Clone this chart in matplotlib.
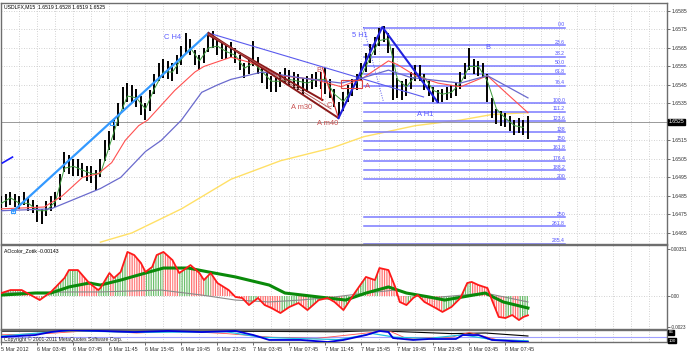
import numpy as np
import matplotlib.pyplot as plt
from matplotlib.patches import Rectangle

plt.rcParams['font.family'] = ['Liberation Sans', 'DejaVu Sans']
plt.rcParams['hatch.linewidth'] = 0.9

title = 'USDLFX,M15  1.6519 1.6528 1.6519 1.6525'
ind_title = 'AOcolor_Zotik -0.00143'
time_labels = ['5 Mar 2012', '6 Mar 03:45', '6 Mar 07:45', '6 Mar 11:45', '6 Mar 15:45',
               '6 Mar 19:45', '6 Mar 23:45', '7 Mar 03:45', '7 Mar 07:45', '7 Mar 11:45',
               '7 Mar 15:45', '7 Mar 19:45', '7 Mar 23:45', '8 Mar 03:45', '8 Mar 07:45']
time_label_bars = [0, 16, 32, 48, 64, 80, 96, 112, 128, 144, 160, 176, 192, 208, 224]

# price bars, one entry for every 2 M15 bars
price_highs = [1.6485, 1.6486, 1.6487, 1.6486, 1.6485, 1.6487, 1.6484, 1.6483, 1.6480, 1.6478,
               1.6482, 1.6485, 1.6487, 1.6497, 1.6509, 1.6507, 1.6505, 1.6505, 1.6503, 1.6501,
               1.6501, 1.6499, 1.6505, 1.6515, 1.6520, 1.6526, 1.6535, 1.6544, 1.6546, 1.6545,
               1.6543, 1.6539, 1.6535, 1.6542, 1.6551, 1.6557, 1.6559, 1.6558, 1.6557, 1.6561,
               1.6566, 1.6573, 1.6570, 1.6564, 1.6561, 1.6565, 1.6573, 1.6574, 1.6570, 1.6568,
               1.6567, 1.6568, 1.6565, 1.6561, 1.6557, 1.6559, 1.6569, 1.6560, 1.6554, 1.6552,
               1.6550, 1.6549, 1.6552, 1.6554, 1.6553, 1.6552, 1.6551, 1.6549, 1.6550, 1.6551,
               1.6552, 1.6552, 1.6554, 1.6548, 1.6543, 1.6536, 1.6541, 1.6545, 1.6548, 1.6551,
               1.6557, 1.6562, 1.6567, 1.6571, 1.6576, 1.6577, 1.6573, 1.6565, 1.6549, 1.6547,
               1.6548, 1.6552, 1.6556, 1.6556, 1.6551, 1.6547, 1.6544, 1.6542, 1.6543, 1.6544,
               1.6545, 1.6546, 1.6552, 1.6557, 1.6565, 1.6559, 1.6558, 1.6557, 1.6551, 1.6538,
               1.6532, 1.6531, 1.6530, 1.6528, 1.6526, 1.6527, 1.6526, 1.6528]
price_lows = [1.6477, 1.6479, 1.6480, 1.6479, 1.6478, 1.6480, 1.6477, 1.6476, 1.6471, 1.6470,
              1.6474, 1.6477, 1.6479, 1.6483, 1.6498, 1.6497, 1.6496, 1.6496, 1.6495, 1.6493,
              1.6492, 1.6488, 1.6495, 1.6504, 1.6510, 1.6515, 1.6523, 1.6532, 1.6536, 1.6535,
              1.6533, 1.6529, 1.6526, 1.6531, 1.6540, 1.6547, 1.6549, 1.6548, 1.6547, 1.6551,
              1.6556, 1.6562, 1.6561, 1.6556, 1.6553, 1.6557, 1.6563, 1.6565, 1.6561, 1.6559,
              1.6559, 1.6560, 1.6557, 1.6553, 1.6549, 1.6551, 1.6555, 1.6551, 1.6546, 1.6543,
              1.6541, 1.6541, 1.6544, 1.6546, 1.6545, 1.6543, 1.6542, 1.6540, 1.6541, 1.6543,
              1.6544, 1.6543, 1.6540, 1.6538, 1.6533, 1.6528, 1.6531, 1.6536, 1.6539, 1.6542,
              1.6547, 1.6552, 1.6557, 1.6561, 1.6566, 1.6568, 1.6562, 1.6537, 1.6538, 1.6537,
              1.6539, 1.6543, 1.6547, 1.6547, 1.6542, 1.6539, 1.6536, 1.6535, 1.6536, 1.6537,
              1.6538, 1.6539, 1.6543, 1.6548, 1.6553, 1.6551, 1.6550, 1.6549, 1.6536, 1.6527,
              1.6524, 1.6523, 1.6522, 1.6520, 1.6518, 1.6519, 1.6518, 1.6516]
last_price = 1.6525

# fast MA, one value every 4 bars
green_ma = [1.6481, 1.6484, 1.6481, 1.6481, 1.6477, 1.6477, 1.6482, 1.6500, 1.6501, 1.6499,
            1.6497, 1.6497, 1.6512, 1.6527, 1.6539, 1.6538, 1.6532, 1.6543, 1.6552, 1.6552,
            1.6559, 1.6565, 1.6558, 1.6565, 1.6566, 1.6563, 1.6561, 1.6554, 1.6557, 1.6552,
            1.6547, 1.6547, 1.6548, 1.6547, 1.6546, 1.6548, 1.6548, 1.6540, 1.6536, 1.6543,
            1.6550, 1.6560, 1.6569, 1.6570, 1.6548, 1.6544, 1.6550, 1.6549, 1.6542, 1.6540,
            1.6541, 1.6546, 1.6555, 1.6555, 1.6547, 1.6532, 1.6527, 1.6523, 1.6522]

red_ma_bars = [0, 19, 27, 36, 43, 49, 55, 61, 65, 77, 86, 90, 102, 111, 124, 139, 151, 161,
               172, 176, 184, 194, 204, 216, 224, 234]
red_ma = [1.6478, 1.6479, 1.6485, 1.6495, 1.6497, 1.6503, 1.6515, 1.6523, 1.6526, 1.6542,
          1.6552, 1.6555, 1.6560, 1.6557, 1.6550, 1.6548, 1.6544, 1.6549, 1.6558, 1.6556,
          1.6550, 1.6546, 1.6544, 1.6550, 1.6541, 1.6530]

blue_ma_bars = [0, 22, 44, 53, 64, 71, 80, 89, 96, 102, 116, 132, 151, 161, 172, 182, 204, 216, 234]
blue_ma = [1.6477, 1.6478, 1.6489, 1.6495, 1.6509, 1.6515, 1.6526, 1.6541, 1.6545, 1.6548,
           1.6552, 1.6549, 1.6546, 1.6549, 1.6553, 1.6549, 1.6546, 1.6550, 1.6538]

yellow_ma_bars = [44, 58, 80, 102, 124, 147, 161, 184, 204, 218, 234]
yellow_ma = [1.6460, 1.6465, 1.6478, 1.6494, 1.6504, 1.6511, 1.6517, 1.6523, 1.6526, 1.6529, 1.6530]

# fibonacci grid
fib_top = 1.6576
fib_bottom = 1.6535
fib_start, fib_end = 161, 250.5
fib_levels = [0, 23.6, 38.2, 50, 61.8, 76.4, 100, 111.2, 123.6, 138, 150, 161.8, 176.4,
              188.2, 200, 250, 261.8, 285.4]
fib_texts = ['0.0', '23.6', '38.2', '50.0', '61.8', '76.4', '100.0', '111.2', '123.6', '138',
             '150', '161.8', '176.4', '188.2', '200', '250', '261.8', '285.4']

# AO indicator
ao_bars = [0, 4, 9, 13, 17, 22, 28, 30, 34, 39, 43, 44, 48, 50, 53, 56, 59, 62, 64, 67, 69,
           72, 76, 79, 81, 84, 88, 90, 93, 96, 101, 104, 107, 110, 114, 117, 120, 124, 128,
           132, 136, 141, 145, 148, 152, 157, 162, 166, 168, 172, 175, 177, 180, 183, 185,
           188, 193, 196, 200, 204, 207, 209, 212, 216, 218, 221, 224, 227, 230, 232, 234]
ao_vals = [0.00022, 0.00044, 0.00044, 0.00007, -0.00030, 0.00030, 0.00133, 0.00192, 0.00192,
           0.00096, 0.00044, 0.00059, 0.00170, 0.00133, 0.00178, 0.00326, 0.00303, 0.00244,
           0.00178, 0.00215, 0.00303, 0.00326, 0.00266, 0.00170, 0.00192, 0.00229, 0.00170,
           0.00118, 0.00170, 0.00096, 0.00044, -0.00007, -0.00015, -0.00067, -0.00015,
           -0.00067, -0.00089, -0.00126, -0.00081, -0.00052, -0.00104, -0.00030, -0.00015,
           -0.00044, -0.00104, 0.00022, 0.00141, 0.00118, 0.00207, 0.00192, 0.00067, -0.00044,
           -0.00067, -0.00015, 0.00007, -0.00044, -0.00089, -0.00118, -0.00081, -0.00015,
           0.00096, 0.00104, 0.00081, 0.00059, -0.00030, -0.00155, -0.00163, -0.00141,
           -0.00178, -0.00155, -0.00143]
sig_bars = [0, 15, 22, 30, 39, 44, 53, 64, 72, 83, 92, 104, 119, 126, 141, 153, 162, 172,
            180, 190, 197, 205, 215, 223, 234]
sig_vals = [0.00007, 0.00022, 0.00022, 0.00067, 0.00096, 0.00081, 0.00118, 0.00170, 0.00207,
            0.00207, 0.00178, 0.00141, 0.00081, 0.00022, -0.00007, -0.00030, 0.00022, 0.00067,
            0.00022, -0.00007, -0.00030, -0.00007, 0.00022, -0.00044, -0.00089]
gray_bars = [0, 30, 44, 71, 89, 104, 119, 133, 148, 162, 175, 190, 205, 215, 234]
gray_vals = [0.00022, 0.00030, 0.00030, 0.00044, 0.00007, -0.00030, -0.00044, -0.00030,
             -0.00007, 0.00022, 0.00044, -0.00015, 0.00007, 0.00022, -0.00044]

# lowest window
low_blue_bars = [0, 15, 22, 30, 44, 59, 74, 89, 104, 112, 119, 133, 145, 152, 162, 168, 172,
                 174, 183, 190, 202, 205, 212, 218, 234]
low_blue = [42, 58, 83, 100, 92, 83, 92, 83, 92, 58, 17, 17, 0, 17, 58, 92, 83, 33, 17, 25,
            25, 58, 58, 17, 0]
low_cyan_bars = [0, 30, 60, 100, 115, 130, 150, 165, 175, 190, 205, 218, 234]
low_cyan = [50, 95, 80, 85, 40, 30, 20, 70, 40, 30, 60, 20, 10]
low_red_bars = [0, 20, 40, 60, 80, 100, 120, 140, 160, 172, 180, 200, 208, 220, 234]
low_red = [60, 70, 95, 75, 90, 70, 40, 30, 70, 95, 30, 40, 80, 20, 10]
low_black_bars = [0, 60, 120, 150, 165, 175, 200, 215, 234]
low_black = [90, 92, 88, 85, 95, 88, 70, 75, 50]

fig = plt.figure(figsize=(6.88, 3.53), dpi=100)
H = 353.0
left, width = 1 / 688, 666 / 688
ax1 = fig.add_axes([left, 1 - 244 / H, width, 241 / H])
ax2 = fig.add_axes([left, 1 - 329 / H, width, 84 / H])
ax3 = fig.add_axes([left, 1 - 342 / H, width, 12 / H])

xmin, xmax = -0.2, 295.8
fs = 3.7
grid_kw = dict(color='#c4c4c4', lw=0.6, ls=(0, (1, 2)), zorder=0)

for ax in (ax1, ax2, ax3):
    ax.set_xlim(xmin, xmax)
    for s in ax.spines.values():
        s.set_color('#6e6e6e')
        s.set_linewidth(1.0)
    ax.yaxis.tick_right()
    ax.tick_params(axis='y', length=1.8, width=0.5, labelsize=fs, pad=1.2, colors='#303030')
    for gx in range(0, 296, 8):
        ax.axvline(gx, **grid_kw)

# ---- main price window
ax1.set_ylim(1.64590, 1.65893)
price_ticks = [1.6465 + 0.001 * k for k in range(13)]
ax1.set_yticks(price_ticks)
ax1.set_yticklabels(['' if abs(p - last_price) < 1e-6 else '%.4f' % p for p in price_ticks])
ax1.set_xticks([])
for p in price_ticks:
    ax1.axhline(p, **grid_kw)

ax1.plot(yellow_ma_bars, yellow_ma, color='#ffe066', lw=1.0, zorder=2)

for lvl, txt in zip(fib_levels, fib_texts):
    yv = fib_top - lvl / 100 * (fib_top - fib_bottom)
    ax1.plot([fib_start, fib_end], [yv, yv], color='#7a7aff', lw=1.1, zorder=2)
    ax1.text(fib_end, yv + 0.00003, txt, ha='right', va='bottom', fontsize=fs,
             color='#5050ff', zorder=6)

bar_x = np.arange(len(price_highs)) * 2
ax1.vlines(bar_x, price_lows, price_highs, color='black', lw=1.4, zorder=3)
ax1.plot(np.arange(len(green_ma)) * 4, green_ma, color='#3c9a3c', lw=0.7, zorder=4)
ax1.plot(red_ma_bars, red_ma, color='#ff5050', lw=0.8, zorder=4)
ax1.plot(blue_ma_bars, blue_ma, color='#6a6acd', lw=0.9, zorder=4)

ax1.axhline(last_price, color='#9a9a9a', lw=0.7, zorder=2)

# objects
ax1.plot([5.3, 92], [1.64768, 1.65731], color='#3399ff', lw=1.6, zorder=5)
ax1.plot([5.3, 49.3], [1.64768, 1.65244], ls='none', marker='s', ms=2.5,
         mfc='none', mec='#3399ff', mew=0.8, zorder=5)
ax1.plot([0.4, 4.9], [1.65028, 1.65060], color='#1a1aff', lw=1.2, zorder=5)
ax1.plot([92, 187.6], [1.65731, 1.65385], color='#5a5aee', lw=0.8, zorder=5)
ax1.plot([92, 149.8], [1.65731, 1.65271], color='#8b1a1a', lw=1.4, zorder=5)
ax1.plot([92, 142.7], [1.65720, 1.65369], color='#8b1a1a', lw=1.4, zorder=5)
ax1.plot([92, 146.5], [1.65726, 1.65320], color='#b05050', lw=0.6, zorder=5)
ax1.plot([142.7, 149.8], [1.65542, 1.65271], color='#dd3333', lw=0.8, zorder=5)
ax1.plot([141.8, 141.8], [1.65520, 1.65369], color='#dd3333', lw=0.7, zorder=5)
ax1.plot([149.8, 169.3, 193.8], [1.65271, 1.65763, 1.65358], color='#2020dd', lw=1.5, zorder=5)
ax1.plot([160.9, 169.8], [1.65763, 1.65358], color='#5a5aee', lw=0.7, ls=(0, (1, 1.5)), zorder=5)
ax1.add_patch(Rectangle((150.7, 1.65434), 9.7, 0.00043, fill=False, ec='#dd4444', lw=0.8, zorder=5))

lab = dict(fontsize=5.4, zorder=7, ha='center', va='center')
ax1.text(76, 1.65704, 'C H4', color='#5a5aff', **lab)
ax1.text(159.5, 1.65715, '5 H1', color='#5a5aff', **lab)
ax1.text(216.4, 1.65650, 'B', color='#5a5aff', **lab)
ax1.text(188.4, 1.65290, 'A H1', color='#5a5aff', **lab)
ax1.text(140.9, 1.65530, 'B', color='#c85050', **lab)
ax1.text(145.8, 1.65340, 'C', color='#c85050', **lab)
ax1.text(133.3, 1.65330, 'A m30', color='#c85050', **lab)
ax1.text(145.0, 1.65240, 'A m40', color='#c85050', **lab)
ax1.text(162.8, 1.65440, 'A', color='#dd4444', **lab)

ax1.text(0.004, 0.995, title, transform=ax1.transAxes, ha='left', va='top', fontsize=fs)
ax1.text(1.0025, last_price, '%.4f' % last_price, transform=ax1.get_yaxis_transform(),
         ha='left', va='center', fontsize=fs, color='white',
         bbox=dict(boxstyle='square,pad=0.15', fc='black', ec='black'), zorder=10, clip_on=False)

# ---- AO window
ax2.set_ylim(-0.002442, 0.003774)
ax2.set_yticks([0.00351, 0.0, -0.0023])
ax2.set_yticklabels(['0.00351', '0.00', '-0.0023'])
ax2.tick_params(axis='y', labelsize=3.3)
ax2.set_xticks([])
ax2.axhline(0, **grid_kw)
for k in range(len(ao_bars) - 1):
    up = ao_vals[k + 1] >= ao_vals[k]
    ax2.fill_between(ao_bars[k:k + 2], ao_vals[k:k + 2], 0, facecolor='none',
                     edgecolor='#6cbf6c' if up else '#ff7070', hatch='|' * 7, lw=0, zorder=1)
ax2.plot(gray_bars, gray_vals, color='#8a8a8a', lw=0.8, zorder=2)
ax2.plot(sig_bars, sig_vals, color='#0a8a0a', lw=2.2, zorder=3)
ax2.plot(ao_bars, ao_vals, color='#ff1a1a', lw=1.3, zorder=4)
ax2.text(0.004, 0.96, ind_title, transform=ax2.transAxes, ha='left', va='top', fontsize=fs)

# ---- lowest window
ax3.set_ylim(0, 100)
ax3.set_yticks([])
ax3.axhline(42, color='#a0a0ff', lw=0.8, zorder=1)
ax3.plot(low_black_bars, low_black, color='black', lw=0.8, zorder=2)
ax3.plot(low_red_bars, low_red, color='#ff5050', lw=0.6, zorder=2)
ax3.plot(low_cyan_bars, low_cyan, color='#20c0e0', lw=0.9, zorder=2)
ax3.plot(low_blue_bars, low_blue, color='#0000dd', lw=1.3, zorder=3)
ax3.text(0.004, 0.25, 'Copyright \u00a9 2001-2011 MetaQuotes Software Corp.',
         transform=ax3.transAxes, ha='left', va='center', fontsize=fs, color='#202020', zorder=5)
for yv, txt in ((80, '86'), (12, '100')):
    ax3.text(1.0025, yv, txt, transform=ax3.get_yaxis_transform(), ha='left', va='center',
             fontsize=3.2, color='white', bbox=dict(boxstyle='square,pad=0.1', fc='black', ec='black'),
             clip_on=False)
ax3.set_xticks(time_label_bars)
ax3.set_xticklabels(time_labels, ha='left', fontsize=3.9)
ax3.tick_params(axis='x', length=2, width=0.5, pad=1.5, colors='#303030')

fig.savefig('out.png', dpi=100, facecolor='white')
